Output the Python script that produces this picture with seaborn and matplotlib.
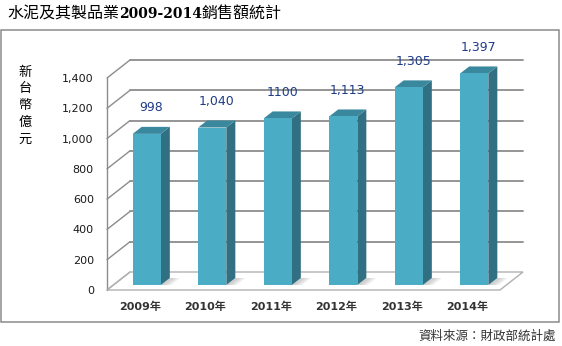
import matplotlib
matplotlib.use('Agg')
import matplotlib.pyplot as plt
import seaborn as sns
import pandas as pd
from matplotlib.patches import Polygon, Rectangle
from matplotlib.transforms import Affine2D, IdentityTransform
from matplotlib.lines import Line2D

# ---------------- data ----------------
years = ['2009年', '2010年', '2011年', '2012年', '2013年', '2014年']
sales = [998, 1040, 1100, 1113, 1305, 1397]
value_labels = ['998', '1,040', '1100', '1,113', '1,305', '1,397']
y_ticks = [0, 200, 400, 600, 800, 1000, 1200, 1400]
y_tick_labels = ['0', '200', '400', '600', '800', '1,000', '1,200', '1,400']
title_parts = ['水泥及其製品業', '2009-2014', '銷售額統計']
y_title_chars = ['新', '台', '幣', '億', '元']
source_text = '資料來源：財政部統計處'

# ---------------- style ----------------
FRONT = '#4BACC6'
SIDE = '#316F82'
TOP = '#3A889D'
GRID = '#8c8c8c'
FLOOR = '#b0b0b0'
LABEL_BLUE = '#1F3C88'

sns.set_theme(style='white')
plt.rcParams['font.family'] = ['DejaVu Sans', 'Noto Sans CJK TC']

W, H = 562, 346
fig = plt.figure(figsize=(W / 100, H / 100), dpi=100)
fig.patch.set_facecolor('white')


def fx(px):
    return px / W


def fy(py):
    return 1 - py / H


ax = fig.add_axes([fx(107), fy(290), fx(500) - fx(107), fy(78) - fy(290)])
df = pd.DataFrame({'year': years, 'sales': sales})
sns.barplot(data=df, x='year', y='sales', ax=ax, color=FRONT, width=0.43,
            saturation=1, linewidth=0, zorder=6)
ax.set_xlim(-0.5, len(years) - 0.5)
ax.set_ylim(0, 1400)
ax.set_facecolor('none')
for s in ax.spines.values():
    s.set_visible(False)
ax.set_xlabel('')
ax.set_ylabel('')
ax.set_yticks(y_ticks)
ax.set_yticklabels(y_tick_labels, fontsize=8, color='#1a1a1a')
ax.set_xticks(range(len(years)))
ax.set_xticklabels(years, fontsize=8, fontweight='bold', color='#333333')
ax.tick_params(axis='y', length=0, pad=9.5)
ax.tick_params(axis='x', length=0, pad=8)
ax.grid(False)

ident = IdentityTransform()
# depth offsets (pixels)
WALL_DX, WALL_DY = 23, 18
BAR_DX, BAR_DY = 7, 5
DEP_DX, DEP_DY = 9, 7


def disp(x, y):
    return ax.transData.transform((x, y))


x0, x1 = -0.5, len(years) - 0.5

# floor
f0 = disp(x0, 0)
f1 = disp(x1, 0)
floor = Polygon([f0, f1, (f1[0] + WALL_DX, f1[1] + WALL_DY),
                 (f0[0] + WALL_DX, f0[1] + WALL_DY)], closed=True,
                facecolor='white', edgecolor=FLOOR, lw=1.0,
                transform=ident, zorder=1, clip_on=False)
ax.add_patch(floor)

# left wall vertical + gridlines (back wall + diagonal on side wall)
p_lo = disp(x0, 0)
p_hi = disp(x0, 1400)
ax.add_line(Line2D([p_lo[0], p_hi[0]], [p_lo[1], p_hi[1]], color=GRID, lw=1.0,
                   transform=ident, zorder=2, clip_on=False))
for v in y_ticks:
    a = disp(x0, v)
    b = disp(x1, v)
    col = FLOOR if v == 0 else GRID
    ax.add_line(Line2D([a[0], a[0] + WALL_DX], [a[1], a[1] + WALL_DY],
                       color=col, lw=1.0, transform=ident, zorder=2, clip_on=False))
    if v > 0:
        ax.add_line(Line2D([a[0] + WALL_DX, b[0] + WALL_DX],
                           [a[1] + WALL_DY, b[1] + WALL_DY],
                           color=GRID, lw=1.3, transform=ident, zorder=2, clip_on=False))

# 3D bars built from seaborn's bar patches
shift = Affine2D().translate(BAR_DX, BAR_DY)
bars = [p for p in ax.patches if isinstance(p, Rectangle)]
for i, p in enumerate(bars):
    bx, bw, bh = p.get_x(), p.get_width(), p.get_height()
    p.set_transform(ax.transData + shift)
    p.set_clip_on(False)
    bl = disp(bx, 0) + (BAR_DX, BAR_DY)
    br = disp(bx + bw, 0) + (BAR_DX, BAR_DY)
    tl = disp(bx, bh) + (BAR_DX, BAR_DY)
    tr = disp(bx + bw, bh) + (BAR_DX, BAR_DY)
    d = (DEP_DX, DEP_DY)
    # soft shadow on floor
    for k, (w_, a_) in enumerate([(10, 0.25), (7, 0.3), (4, 0.35)]):
        shadow = Polygon([br, (br[0] + w_, br[1]), (br[0] + w_ + d[0], br[1] + d[1]),
                          (br[0] + d[0], br[1] + d[1])], closed=True,
                         facecolor='#b8b8b8', edgecolor='none', alpha=a_,
                         transform=ident, zorder=3, clip_on=False)
        ax.add_patch(shadow)
    side = Polygon([br, tr, tr + d, br + d], closed=True, facecolor=SIDE,
                   edgecolor='none', transform=ident, zorder=5, clip_on=False)
    top = Polygon([tl, tr, tr + d, tl + d], closed=True, facecolor=TOP,
                  edgecolor='none', transform=ident, zorder=5, clip_on=False)
    ax.add_patch(side)
    ax.add_patch(top)
    cx = (tl[0] + tr[0]) / 2 + DEP_DX / 2
    ax.text(cx, tl[1] + 26, value_labels[i], transform=ident, ha='center',
            va='center', fontsize=9, color=LABEL_BLUE, zorder=8)

# frame
fig.add_artist(Rectangle((fx(1), fy(322)), fx(559) - fx(1), fy(30) - fy(322),
                         transform=fig.transFigure, fill=False,
                         edgecolor='#8c8c8c', lw=1.1))

# title (three runs)
t1 = fig.text(fx(7), fy(14), title_parts[0], fontsize=11.5, color='black',
              family=['Noto Sans CJK TC'], va='center', ha='left')
t2 = plt.annotate(title_parts[1], xy=(1, 0.5), xycoords=t1, va='center', ha='left',
                  fontsize=10, fontweight='bold', color='black',
                  family=['DejaVu Serif'],
                  annotation_clip=False)
t3 = plt.annotate(title_parts[2], xy=(1, 0.5), xycoords=t2, va='center', ha='left',
                  fontsize=11.5, color='black', family=['Noto Sans CJK TC'],
                  annotation_clip=False)

# vertical y title
for k, ch in enumerate(y_title_chars):
    fig.text(fx(25), fy(72 + k * 16.8), ch, fontsize=9.5, color='black',
             family=['Noto Sans CJK TC'], ha='center', va='center')

# source
fig.text(fx(556), fy(336), source_text, fontsize=9, color='#333333',
         family=['Noto Sans CJK TC'], ha='right', va='center')

fig.savefig('out.png', dpi=100)
